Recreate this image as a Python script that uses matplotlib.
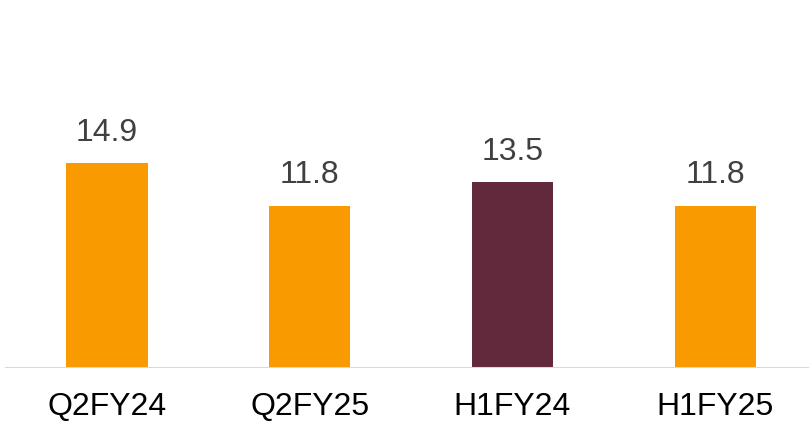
import matplotlib
matplotlib.use('Agg')
import matplotlib.pyplot as plt

categories = ['Q2FY24', 'Q2FY25', 'H1FY24', 'H1FY25']
values = [14.9, 11.8, 13.5, 11.8]
colors = ['#F99B00', '#F99B00', '#62293C', '#F99B00']

plt.rcParams['font.family'] = ['Liberation Sans', 'DejaVu Sans']

fig = plt.figure(figsize=(8.09, 4.22), dpi=100)
ax = fig.add_axes([0, 54 / 422, 1, 368 / 422])

x = list(range(len(categories)))
ax.bar(x, values, width=0.40, color=colors, zorder=2)

for xi, v in zip(x, values):
    ax.annotate(f'{v:.1f}', (xi, v), xytext=(0, 11), textcoords='offset points',
                ha='center', va='bottom', fontsize=23, color='#404040')

ax.set_xlim(-107 / 202.7, (809 - 107) / 202.7)
ax.set_ylim(0, 368 / 13.76)

ax.axhline(0, xmin=6 / 809, xmax=1, color='#D9D9D9', lw=1.5, zorder=3)
for s in ax.spines.values():
    s.set_visible(False)
ax.set_yticks([])
ax.set_xticks(x)
ax.set_xticklabels(categories, fontsize=23, color='black')
ax.tick_params(axis='x', length=0, pad=17)

fig.savefig('out.png', dpi=100)
